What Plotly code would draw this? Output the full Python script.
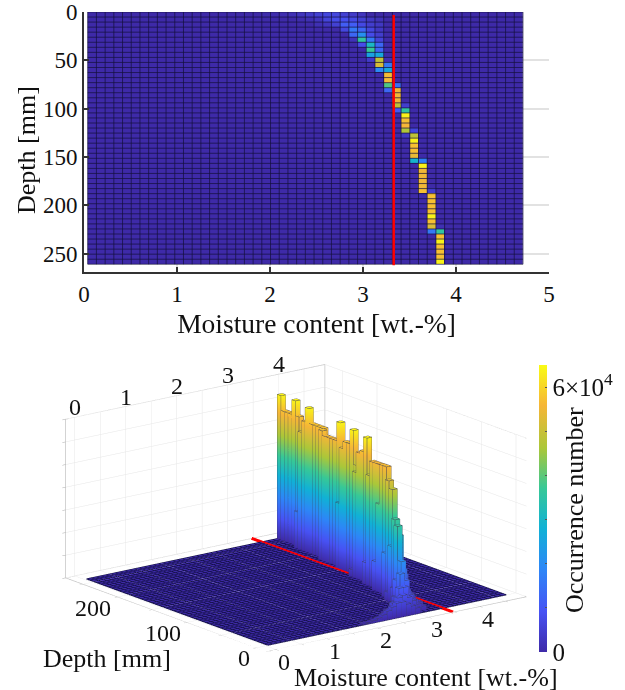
import numpy as np
import plotly.graph_objects as go

# ---------- data ----------
moisture_limits = [0.04, 4.72]
depth_limits = [0.0, 261.0]
n_bins = 50
reference_moisture = 3.33
reference_moisture_3d = 3.47
cmax = 6.5e4

# first occupied moisture bin of every depth row
row_first_bin = [20, 24, 26, 29, 30, 30, 31, 32, 32, 32,
                 33, 33, 34, 34, 34, 34, 35, 35, 35, 35,
                 36, 36, 36, 36, 36, 37, 37, 37, 37, 37,
                 38, 38, 38, 38, 38, 38, 39, 39, 39, 39,
                 39, 39, 39, 39, 40, 40, 40, 40, 40, 40]
# occurrence (fraction of the colour maximum) in consecutive moisture bins
row_fractions = [
    [.006, .01, .015, .025, .04, .06, .08, .10, .10, .08, .06, .04],
    [.01, .02, .04, .09, .12, .13, .11, .08, .05, .03],
    [.02, .04, .08, .17, .17, .11, .07, .05], [.10, .25, .20, .10, .05], [.20, .32, .12, .07],
    [.03, .55, .25, .09], [.12, .47, .20], [.57, .20], [.38, .40], [.06, .75, .02],
    [.80, .25], [.30, .40], [.87], [.87], [.60, .22],
    [.20, .85], [.85], [.85], [.75, .07], [.15, .55],
    [.98], [.88], [.86], [.72, .10], [.05, .75],
    [.98], [.88], [.88], [.83], [.45, .27],
    [.98], [.85], [.85], [.85], [.85], [.88, .07],
    [.88], [.88], [.88], [.88], [.98], [.88], [.80, .02], [.25, .55],
    [.88], [.98], [.88], [.88], [.88], [.98],
]

parula = [[0.0, "#3e2aa8"], [0.14, "#4752f4"], [0.29, "#2d87f7"], [0.43, "#11b1d6"],
          [0.57, "#37c897"], [0.71, "#abc739"], [0.86, "#f6b637"], [1.0, "#f9fb15"]]

x_ticks = [0, 1, 2, 3, 4, 5]
y_ticks = [0, 50, 100, 150, 200, 250]
x3_labels = [0, 1, 2, 3, 4]
y3_labels = [0, 100, 200]
x3_range = [-0.18, 4.91]
y3_range = [-15, 275]
z3_range = [0, 7e4]
colorbar_ticks = [0, 1e4, 2e4, 3e4, 4e4, 5e4, 6e4]
colorbar_labels = ["0", "", "", "", "", "", "6×10<sup>4</sup>"]

SERIF = "Liberation Serif"
W, H = 625, 690
TXT = "#111111"

# ---------- build ----------
counts = np.zeros((n_bins, n_bins))
for r, (first, vals) in enumerate(zip(row_first_bin, row_fractions)):
    for k, f in enumerate(vals):
        counts[r, first + k] = f * cmax
xe = np.linspace(*moisture_limits, n_bins + 1)
ye = np.linspace(*depth_limits, n_bins + 1)
xc = (xe[:-1] + xe[1:]) / 2
yc = (ye[:-1] + ye[1:]) / 2

fig = go.Figure()
fig.add_trace(go.Heatmap(x=xc, y=yc, z=counts, coloraxis="coloraxis", hoverinfo="skip"))
gx, gy = [], []
for v in xe:
    gx += [v, v, None]; gy += [ye[0], ye[-1], None]
for v in ye:
    gx += [xe[0], xe[-1], None]; gy += [v, v, None]
fig.add_trace(go.Scatter(x=gx, y=gy, mode="lines", line=dict(color="rgba(20,15,60,0.7)", width=1),
                         hoverinfo="skip", showlegend=False))
fig.add_trace(go.Scatter(x=[reference_moisture]*2, y=[3, 262], mode="lines",
                         line=dict(color="#ff0000", width=2.5), hoverinfo="skip", showlegend=False))

# 3-D bars
vx, vy, vz, ii, jj, kk = [], [], [], [], [], []
ex, ey, ez = [], [], []
fx, fy, fz = [], [], []
def quad(p):
    n = len(vx)
    for a, b, c_ in p:
        vx.append(a); vy.append(b); vz.append(c_)
    ii.extend([n, n]); jj.extend([n+1, n+2]); kk.extend([n+2, n+3])
for r in range(n_bins):
    for c in range(n_bins):
        x0, x1, y0, y1, h = xe[c], xe[c+1], ye[r], ye[r+1], counts[r, c]
        quad([(x0, y0, h), (x1, y0, h), (x1, y1, h), (x0, y1, h)])
        if h > 0:
            quad([(x0, y0, 0), (x1, y0, 0), (x1, y0, h), (x0, y0, h)])
            quad([(x1, y0, 0), (x1, y1, 0), (x1, y1, h), (x1, y0, h)])
            quad([(x1, y1, 0), (x0, y1, 0), (x0, y1, h), (x1, y1, h)])
            quad([(x0, y1, 0), (x0, y0, 0), (x0, y0, h), (x0, y1, h)])
            ex += [x0, x1, x1, x0, x0, None]; ey += [y0, y0, y1, y1, y0, None]; ez += [h]*5 + [None]
            for a, b in [(x0, y0), (x1, y0), (x1, y1), (x0, y1)]:
                ex += [a, a, None]; ey += [b, b, None]; ez += [0, h, None]
lift = 60
for v in xe:
    fx += [v, v, None]; fy += [ye[0], ye[-1], None]; fz += [lift, lift, None]
for v in ye:
    fx += [xe[0], xe[-1], None]; fy += [v, v, None]; fz += [lift, lift, None]

fig.add_trace(go.Mesh3d(x=vx, y=vy, z=vz, i=ii, j=jj, k=kk, intensity=vz, coloraxis="coloraxis",
                        flatshading=False, hoverinfo="skip", scene="scene",
                        lighting=dict(ambient=1, diffuse=0, specular=0, fresnel=0, roughness=1)))
fig.add_trace(go.Scatter3d(x=fx, y=fy, z=fz, mode="lines", line=dict(color="#14104a", width=2),
                           hoverinfo="skip", showlegend=False, scene="scene"))
fig.add_trace(go.Scatter3d(x=ex, y=ey, z=ez, mode="lines", line=dict(color="#3a3a55", width=1),
                           hoverinfo="skip", showlegend=False, scene="scene"))
fig.add_trace(go.Scatter3d(x=[reference_moisture_3d]*2, y=y3_range, z=[lift*2]*2, mode="lines",
                           line=dict(color="#ff0000", width=6), hoverinfo="skip",
                           showlegend=False, scene="scene"))
# box outline
a0, a1 = x3_range; b0, b1 = y3_range; c0, c1 = z3_range
bx = [a0, a0, None, a0, a1, a1, None, a1, a1, None, a0, a1, None, a1, a1, None, a0, a0, None, a0, a1]
by = [b1, b1, None, b1, b1, b0, None, b1, b1, None, b1, b1, None, b1, b0, None, b1, b0, None, b0, b0]
bz = [c0, c1, None, c1, c1, c1, None, c0, c1, None, c0, c0, None, c0, c0, None, c0, c0, None, c0, c0]
fig.add_trace(go.Scatter3d(x=bx, y=by, z=bz, mode="lines", line=dict(color="#c4c4c4", width=1.5),
                           hoverinfo="skip", showlegend=False, scene="scene"))

# camera solved from the projected box edges
p, q, e = 0.605, 0.796, np.arcsin(0.278)
D = 2.0
eye = dict(x=-p*np.cos(e)*D, y=-q*np.cos(e)*D, z=np.sin(e)*D)
ZOOM = 1.83

ax3 = dict(showbackground=False, showline=False, zeroline=False, showticklabels=False, title=dict(text=""),
           gridcolor="#e6e6e6", gridwidth=1, showspikes=False, ticks="outside", ticklen=4,
           tickcolor="#aaaaaa", tickwidth=1, autorange=False, tickmode="linear")

sa = []
for v in x3_labels:
    sa.append(dict(x=v, y=y3_range[1], z=z3_range[1], text=str(v), showarrow=False, yshift=10,
                   font=dict(family=SERIF, size=24, color=TXT)))
    sa.append(dict(x=v, y=y3_range[0], z=0, text=str(v), showarrow=False, xshift=8, yshift=-12,
                   font=dict(family=SERIF, size=24, color=TXT)))
for v in y3_labels:
    sa.append(dict(x=x3_range[0] + 0.03, y=v, z=1, text=str(v), showarrow=False, xanchor="right", xshift=-6, yshift=-11,
                   font=dict(family=SERIF, size=24, color=TXT)))

cx, cy, sw, sh = 296, 508, 592, 356
note = dict(xref="paper", yref="paper", showarrow=False, xanchor="center", yanchor="middle")
fig.update_layout(
    width=W, height=H, margin=dict(l=0, r=0, t=0, b=0), paper_bgcolor="white", plot_bgcolor="white",
    hovermode=False, showlegend=False,
    xaxis=dict(domain=[84/W, 549/W], range=[0, 5], tickvals=x_ticks, ticks="inside", ticklen=5, tickwidth=1.5,
               tickcolor="#333", showline=True, linecolor="#333", linewidth=2, showgrid=True, gridcolor="#e2e2e2",
               gridwidth=1.5, zeroline=False, automargin=False, tickfont=dict(family=SERIF, size=23, color=TXT),
               title=dict(text="Moisture content [wt.-%]", font=dict(family=SERIF, size=27.5, color=TXT), standoff=8)),
    yaxis=dict(domain=[1-272/H, 1-12/H], range=[269, 0], tickvals=y_ticks, ticks="inside", ticklen=5, tickwidth=1.5,
               tickcolor="#333", showline=True, linecolor="#333", linewidth=2, showgrid=True, gridcolor="#e2e2e2",
               gridwidth=1.5, zeroline=False, automargin=False, tickfont=dict(family=SERIF, size=23, color=TXT)),
    coloraxis=dict(cmin=0, cmax=cmax, colorscale=parula,
                   colorbar=dict(x=539/W, xanchor="left", xpad=0, ypad=0, thickness=8, thicknessmode="pixels",
                                 lenmode="pixels", len=287, y=1-652/H, yanchor="bottom", outlinewidth=0,
                                 tickvals=colorbar_ticks, ticktext=colorbar_labels, ticks="inside", ticklen=2,
                                 tickcolor="#555555", tickwidth=1,
                                 tickfont=dict(family=SERIF, size=25, color=TXT))),
    scene=dict(domain=dict(x=[(cx-sw/2)/W, (cx+sw/2)/W], y=[1-(cy+sh/2)/H, 1-(cy-sh/2)/H]),
               aspectmode="manual", aspectratio=dict(x=1*ZOOM, y=1.022*ZOOM, z=0.507*ZOOM),
               camera=dict(eye=eye, up=dict(x=0, y=0, z=1), center=dict(x=0, y=0, z=0),
                           projection=dict(type="orthographic")),
               xaxis=dict(ax3, range=x3_range, tick0=0, dtick=0.5),
               yaxis=dict(ax3, range=y3_range, tick0=0, dtick=50),
               zaxis=dict(ax3, range=z3_range, tick0=0, dtick=1e4),
               annotations=sa),
    annotations=[
        dict(note, x=27/W, y=1-150/H, text="Depth [mm]", textangle=-90, font=dict(family=SERIF, size=26, color=TXT)),
        dict(note, x=107/W, y=1-658/H, text="Depth [mm]", font=dict(family=SERIF, size=26, color=TXT)),
        dict(note, x=426/W, y=1-677/H, text="Moisture content [wt.-%]", font=dict(family=SERIF, size=26, color=TXT)),
        dict(note, x=575/W, y=1-510/H, text="Occurrence number", textangle=-90, font=dict(family=SERIF, size=26, color=TXT)),
    ],
)
fig.write_html("out.html", config=dict(displayModeBar=False),
               post_script="document.body.style.margin='0';")
